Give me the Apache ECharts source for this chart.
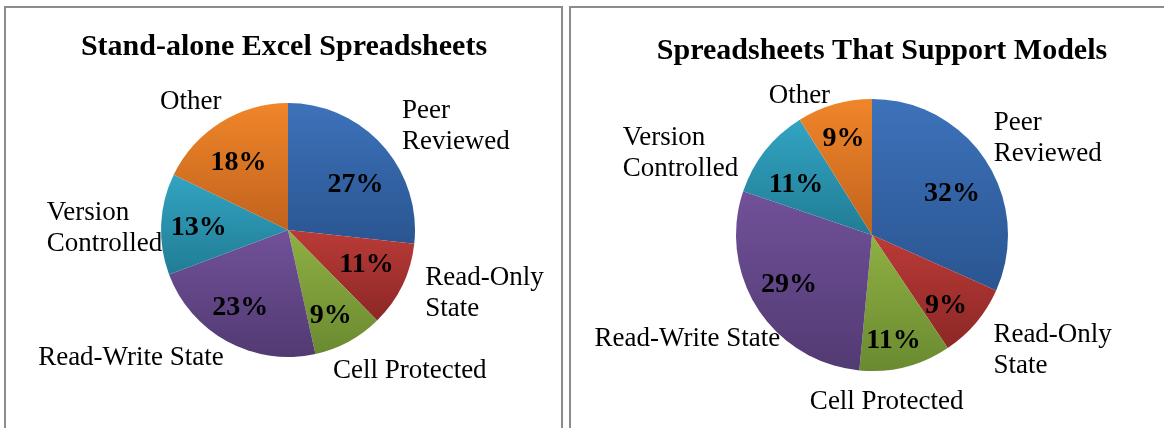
<!DOCTYPE html>
<html>
<head>
<meta charset="utf-8">
<script src="https://cdn.jsdelivr.net/npm/echarts@6/dist/echarts.min.js"></script>
<style>
html,body{margin:0;padding:0;background:#fff;}
#chart{width:1164px;height:428px;}
</style>
</head>
<body>
<div id="chart"></div>
<script>
// ---- data ----
const categories = ['Peer Reviewed', 'Read-Only State', 'Cell Protected', 'Read-Write State', 'Version Controlled', 'Other'];
const labelTexts = ['Peer\nReviewed', 'Read-Only\nState', 'Cell Protected', 'Read-Write State', 'Version\nControlled', 'Other'];
const standaloneValues = [27, 11, 9, 23, 13, 18];
const supportModelsValues = [32, 9, 11, 29, 11, 9];
const chartTitles = ['Stand-alone Excel Spreadsheets', 'Spreadsheets That Support Models'];

// ---- styling / layout tweaks (not data) ----
const sliceColors = [
  ['#3d72ba', '#2a5591'],
  ['#ba3b38', '#8c2725'],
  ['#8fb042', '#6a8a31'],
  ['#71519a', '#523a72'],
  ['#32a4c2', '#217c95'],
  ['#f0862a', '#c1621d']
];
const leftLineLen  = [30, 15.5, 32, 16, 13, 26.5];
const leftLineLen2 = [-3, 9, -31, -4, -14, -15];
const leftNameDy   = [1, 1, 1, 2, 5, 2];
const rightLineLen  = [46, 41, 34, 51, 0, 12];
const rightLineLen2 = [-31, -14, -104, -65, 27, 1];
const rightNameDy   = [2, 1, 2, 2, 3, 3];
const leftPctShift  = [[1, 14], [-2, -4], [0, 7], [-5, -1], [0, 2], [-2, 8]];
const rightPctShift = [[0, 11], [1, 9], [-2, 13], [-3, -2], [-1, 9], [-2, -4]];

const serif = 'Liberation Serif';

function buildData(values, lens, lens2) {
  return values.map((v, i) => ({
    name: categories[i],
    value: v,
    itemStyle: {
      color: new echarts.graphic.LinearGradient(0, 0, 0, 1, [
        {offset: 0, color: sliceColors[i][0]},
        {offset: 1, color: sliceColors[i][1]}
      ])
    },
    labelLine: {show: false, length: lens[i], length2: lens2[i]}
  }));
}
function buildPctData(values) {
  return values.map((v, i) => ({name: categories[i], value: v}));
}

function pieSeries(values, center, r, lens, lens2, nameDy, pctShift) {
  return [
    {
      type: 'pie',
      center: center,
      radius: [0, r],
      startAngle: 90,
      clockwise: true,
      avoidLabelOverlap: false,
      silent: true,
      data: buildData(values, lens, lens2),
      label: {
        show: true,
        position: 'outside',
        distanceToLabelLine: 0,
        formatter: p => labelTexts[p.dataIndex],
        fontFamily: serif,
        fontSize: 27,
        lineHeight: 31,
        color: '#000'
      },
      labelLine: {show: false},
      labelLayout: function (p) {
        const out = {dy: nameDy[p.dataIndex]};
        if (p.align === 'right') {
          out.align = 'left';
          out.dx = -p.labelRect.width;
        }
        return out;
      }
    },
    {
      type: 'pie',
      center: center,
      radius: [0, r * 1.36],
      startAngle: 90,
      clockwise: true,
      avoidLabelOverlap: false,
      silent: true,
      z: 3,
      data: buildPctData(values),
      itemStyle: {color: 'rgba(0,0,0,0)', borderWidth: 0},
      label: {
        show: true,
        position: 'inside',
        formatter: '{c}%',
        fontFamily: serif,
        fontWeight: 'bold',
        fontSize: 28,
        color: '#000'
      },
      labelLine: {show: false},
      labelLayout: function (p) {
        return {dx: pctShift[p.dataIndex][0], dy: pctShift[p.dataIndex][1]};
      }
    }
  ];
}

const chart = echarts.init(document.getElementById('chart'), null, {renderer: 'canvas'});
chart.setOption({
  animation: false,
  backgroundColor: '#fff',
  graphic: [
    {type: 'rect', shape: {x: 5, y: 7, width: 557, height: 440}, style: {fill: 'none', stroke: '#8c8c8c', lineWidth: 2}, silent: true},
    {type: 'rect', shape: {x: 570, y: 7, width: 620, height: 440}, style: {fill: 'none', stroke: '#8c8c8c', lineWidth: 2}, silent: true}
  ],
  title: [
    {text: chartTitles[0], left: 284, top: 32, textAlign: 'center', padding: 0,
     textStyle: {fontFamily: serif, fontWeight: 'bold', fontSize: 30, color: '#000'}},
    {text: chartTitles[1], left: 882, top: 36, textAlign: 'center', padding: 0,
     textStyle: {fontFamily: serif, fontWeight: 'bold', fontSize: 30, color: '#000'}}
  ],
  series: [
    ...pieSeries(standaloneValues, [288, 230], 127, leftLineLen, leftLineLen2, leftNameDy, leftPctShift),
    ...pieSeries(supportModelsValues, [872, 235], 136, rightLineLen, rightLineLen2, rightNameDy, rightPctShift)
  ]
});
</script>
</body>
</html>
